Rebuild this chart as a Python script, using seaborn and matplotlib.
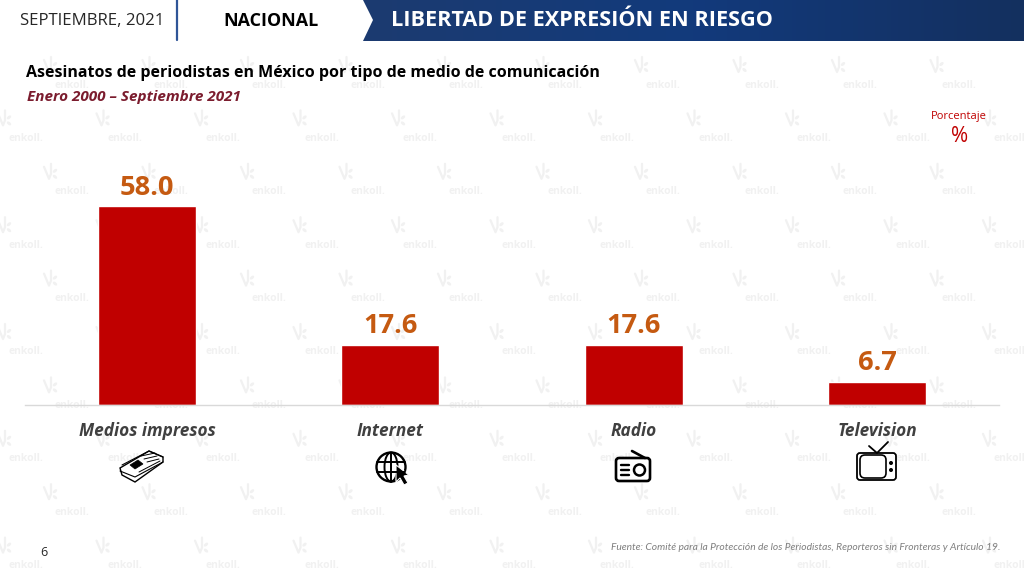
import numpy as np
import pandas as pd
import matplotlib
matplotlib.use("Agg")
import matplotlib.pyplot as plt
from matplotlib.patches import Circle, Ellipse, FancyBboxPatch, Polygon
import seaborn as sns

medios = ["Medios impresos", "Internet", "Radio", "Television"]
porcentajes = [58.0, 17.6, 17.6, 6.7]

FONT = "Open Sans"
RED = "#c00000"
BAND = ["#1c3b70", "#123a7c", "#14305f"]
WM = "#f1f1f1"

sns.set_theme(style="white")
plt.rcParams["font.family"] = [FONT, "DejaVu Sans"]

fig = plt.figure(figsize=(10.24, 5.76), dpi=100)

# full-page layer in pixel coordinates, for everything around the chart
bg = fig.add_axes([0, 0, 1, 1], zorder=0)
bg.set_xlim(0, 1024)
bg.set_ylim(576, 0)
bg.axis("off")


def watermark(x, y):
    bg.text(x, y, "enkoll.", color=WM, fontsize=7.5, fontweight="bold",
            ha="center", va="center")
    lx, ly = x - 22, y - 20
    bg.plot([lx - 6, lx - 1, lx + 1, lx + 1], [ly - 5, ly + 7, ly + 2, ly - 8],
            color=WM, lw=1.6)
    bg.add_patch(Ellipse((lx + 5, ly - 1), 5, 3, angle=-40, color=WM, lw=0))
    bg.add_patch(Ellipse((lx + 5, ly + 5), 5, 3, angle=40, color=WM, lw=0))


# watermark grid, every other row shifted half a step
for r, y in enumerate(np.arange(85, 570, 53.4)):
    if r % 2 == 0:
        x_row = 72 + 98.5 * np.arange(10)
    else:
        x_row = 26 + 98.5 * np.arange(11)
    for x in x_row:
        watermark(x, y)

# header band with gradient and chevron notch
grad = np.linspace(0, 1, 256).reshape(1, -1)
cmap = matplotlib.colors.LinearSegmentedColormap.from_list("band", BAND)
im = bg.imshow(grad, extent=[363, 1024, 41, 0], cmap=cmap, aspect="auto", zorder=2)
band = Polygon([(363, 0), (1024, 0), (1024, 41), (363, 41), (373, 20)],
               closed=True, transform=bg.transData, fc="none", ec="none")
bg.add_patch(band)
im.set_clip_path(band)
bg.set_xlim(0, 1024)
bg.set_ylim(576, 0)

bg.plot([177, 177], [0, 40], color="#2f5597", lw=1.6, zorder=3)
bg.text(20, 21, "SEPTIEMBRE, 2021", fontsize=12.1, color="#262626", va="center")
bg.text(223, 21, "NACIONAL", fontsize=12.9, color="black", fontweight="bold", va="center")
bg.text(391, 21, "LIBERTAD DE EXPRESIÓN EN RIESGO", fontsize=15.6, color="white",
        fontweight="bold", va="center", zorder=3)
bg.text(26, 73, "Asesinatos de periodistas en México por tipo de medio de comunicación",
        fontsize=11.5, color="black", fontweight="bold", va="center")
bg.text(27, 97, "Enero 2000 – Septiembre 2021", fontsize=11, color="#7b1c2e",
        fontweight="bold", style="italic", va="center")
bg.text(959, 117, "Porcentaje", fontsize=8, color=RED, ha="center", va="center")
bg.text(960, 136, "%", fontsize=15, color=RED, ha="center", va="center")
bg.text(44, 552, "6", fontsize=9, color="#262626", ha="center", va="center")
bg.text(1000, 548, "Fuente: Comité para la Protección de los Periodistas, Reporteros sin Fronteras y Artículo 19.",
        fontsize=7.4, color="#7f7f7f", style="italic", ha="right", va="center", family="Lato")

# chart, baseline at y=405 and 3.43 px per percentage point
ax = fig.add_axes([25.3 / 1024, (576 - 405) / 576, 973.5 / 1024, 275 / 576], zorder=1)
ax.patch.set_alpha(0)
df = pd.DataFrame({"medio": medios, "porcentaje": porcentajes})
sns.barplot(data=df, x="medio", y="porcentaje", color=RED, saturation=1, width=0.403, ax=ax)
ax.set_ylim(0, 275 / 3.43)
ax.set_xlabel("")
ax.set_ylabel("")
ax.set_yticks([])
for c in ax.containers:
    ax.bar_label(c, fmt="%.1f", padding=4, fontsize=19.6, fontweight="bold", color="#c55a11")
sns.despine(ax=ax, left=True)
ax.spines["bottom"].set_color("#d9d9d9")
ax.spines["bottom"].set_linewidth(1)
ax.tick_params(axis="x", length=0, pad=12)
for t in ax.get_xticklabels():
    t.set_fontsize(12.4)
    t.set_fontweight("bold")
    t.set_fontstyle("italic")
    t.set_color("#404040")

# icons on a top layer, again in pixels
fg = fig.add_axes([0, 0, 1, 1], zorder=2)
fg.set_xlim(0, 1024)
fg.set_ylim(576, 0)
fg.axis("off")
K = "black"

# newspaper
fg.add_patch(Polygon([(120, 468), (149, 451), (163, 457), (163, 462), (135, 482), (122, 475)],
                     closed=True, fc="white", ec=K, lw=1))
fg.plot([120, 135, 163], [471, 477, 462], color=K, lw=0.8)
fg.plot([122, 149, 163], [465, 451, 457], color=K, lw=0.8)
fg.add_patch(Polygon([(130, 465), (138, 460), (143, 464), (135, 469)], closed=True, fc=K, ec=K, lw=0.5))
for d in range(3):
    fg.plot([141 + d * 3, 155 + d * 2], [458 + d * 3 - 2, 453 + d * 3], color=K, lw=0.7)
fg.plot([139, 160], [472, 461], color=K, lw=0.7)

# globe and cursor
fg.add_patch(Circle((391, 467), 14.5, fc="white", ec=K, lw=1.7))
fg.add_patch(Ellipse((391, 467), 13, 29, fc="none", ec=K, lw=1.4))
fg.plot([391, 391], [452.5, 481.5], color=K, lw=1.4)
fg.plot([377, 405], [462, 462], color=K, lw=1.4)
fg.plot([377, 405], [472, 472], color=K, lw=1.4)
fg.add_patch(Polygon([(396, 465), (396, 482), (400, 478), (404, 485), (408, 483), (404, 476), (409, 475)],
                     closed=True, fc=K, ec="white", lw=0.8))

# radio
fg.add_patch(FancyBboxPatch((616, 458), 34, 23, boxstyle="round,pad=0,rounding_size=3",
                            fc="white", ec=K, lw=1.9))
fg.plot([632, 645], [451, 458], color=K, lw=1.9)
fg.add_patch(Circle((639.5, 470), 5.5, fc="none", ec=K, lw=1.8))
for y in [465, 470, 475]:
    fg.plot([621, 629], [y, y], color=K, lw=1.7)

# television
fg.add_patch(FancyBboxPatch((857, 453), 39, 27, boxstyle="round,pad=0,rounding_size=3",
                            fc="white", ec=K, lw=1.3))
fg.add_patch(FancyBboxPatch((860, 455), 26, 23, boxstyle="round,pad=0,rounding_size=5",
                            fc="none", ec=K, lw=1.2))
fg.plot([869, 877, 888], [446, 453, 442], color=K, lw=1.3)
fg.add_patch(Circle((891, 463), 1.3, fc=K, ec=K))
fg.add_patch(Circle((891, 470), 1.3, fc=K, ec=K))

fig.savefig("out.png", dpi=100)
